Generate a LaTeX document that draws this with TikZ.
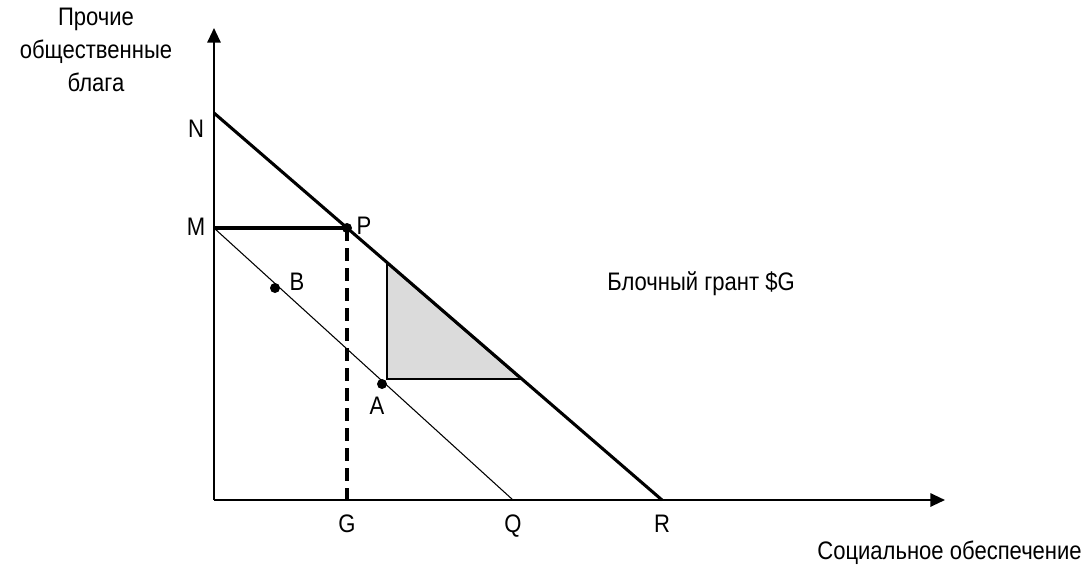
\documentclass[tikz,border=0pt]{standalone}
\usepackage{fontspec}
\setmainfont[FakeStretch=0.87]{Liberation Sans}
\usetikzlibrary{arrows.meta}
\begin{document}
\begin{tikzpicture}[x=0.75pt,y=-0.75pt,
  lbl/.style={font=\fontsize{19}{22}\selectfont, inner sep=0pt},
  pl/.style={lbl, anchor=base},
  axis/.style={line width=1.5pt,-{Triangle[length=11pt,width=10pt]}},
  budget/.style={line width=2.3pt},
  thin/.style={line width=0.8pt},
  dot/.style={circle,fill=black,inner sep=0pt,minimum size=7.5pt}]
\useasboundingbox (0,0) rectangle (1083,569);
\coordinate (O) at (214,500);
\coordinate (Ytip) at (214,28);
\coordinate (Xtip) at (945,500);
\coordinate (N) at (214,113);
\coordinate (M) at (214,228);
\coordinate (R) at (662,500);
\coordinate (Q) at (513,500);
\coordinate (Gp) at (347,500);
\coordinate (T1) at (387,263);
\coordinate (T2) at (387,379);
\coordinate (T3) at (521,379);
% shaded triangle
\filldraw[fill=black!14, draw=black, line width=1.4pt] (T1) -- (T2) -- (T3) -- cycle;
% axes
\draw[axis] (O) -- (Ytip);
\draw[axis] (O) -- (Xtip);
% lines
\draw[thin] (M) -- (Q);
\draw[budget] (N) -- (R);
\node[dot] (P) at (347,228) {};
\draw[budget] (M) -- (P.center);
\draw[line width=2.3pt, dash pattern=on 10pt off 5pt] (P.center) -- (Gp);
\node[dot] (B) at (275,288) {};
\node[dot] (A) at (382,384) {};
% labels
\node[pl] (Nl) at (196,137) {N};
\node[pl] (Ml) at (196,235) {M};
\node[pl] (Pl) at (364,234) {P};
\node[pl] (Bl) at (297,290) {B};
\node[pl] (Al) at (377,414) {A};
\node[pl] (Gl) at (347,532) {G};
\node[pl] (Ql) at (513,532) {Q};
\node[pl] (Rl) at (662,532) {R};
\node[lbl] (grant) at (701,284) {Блочный грант \$G};
\node[lbl, align=center, font=\fontsize{19}{24.5}\selectfont] (ylab) at (96,50) {Прочие\\общественные\\блага};
\node[lbl, anchor=east] (xlab) at (1082,553) {Социальное обеспечение};
\end{tikzpicture}
\end{document}
